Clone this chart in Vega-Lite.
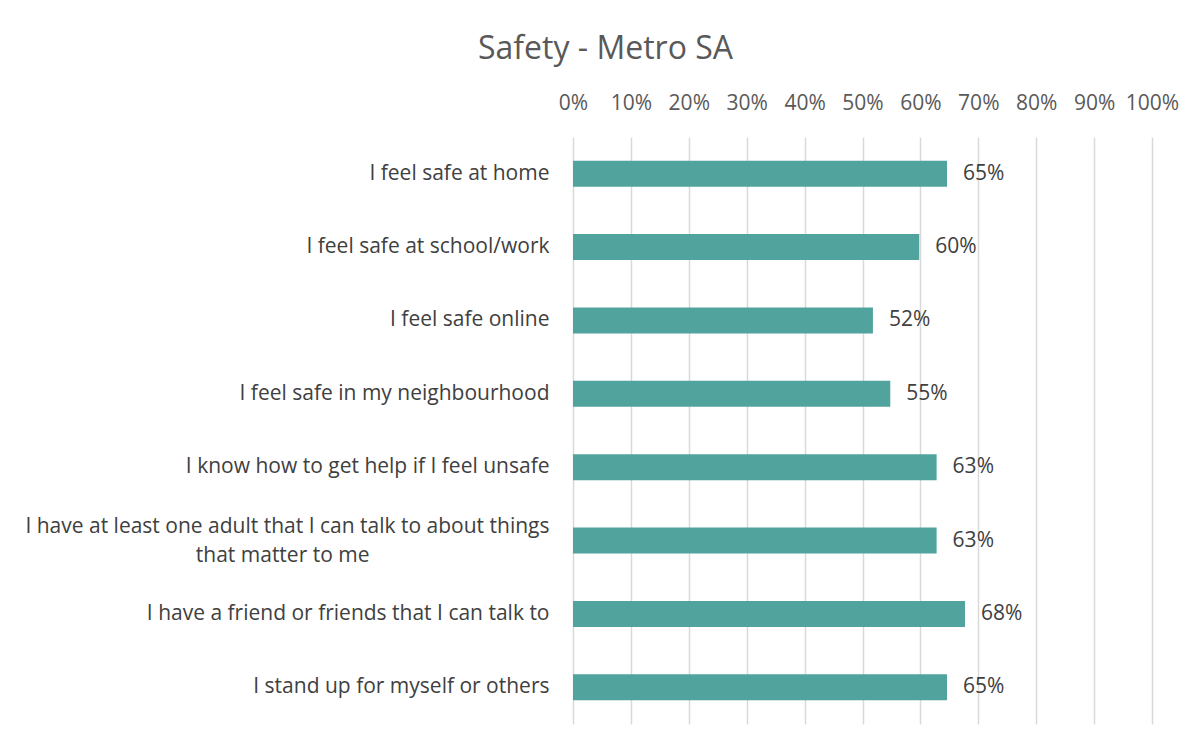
{
  "$schema": "https://vega.github.io/schema/vega-lite/v6.json",
  "autosize": "none",
  "width": 579,
  "height": 587,
  "padding": {"left": 573, "top": 137, "right": 51, "bottom": 25},
  "background": "white",
  "title": {
    "text": "Safety - Metro SA",
    "anchor": "middle",
    "dx": -257,
    "offset": 26,
    "fontSize": 32,
    "font": "Open Sans",
    "fontWeight": "normal",
    "color": "#595959"
  },
  "data": {
    "values": [
      {"item": "I feel safe at home", "value": 0.646},
      {"item": "I feel safe at school/work", "value": 0.598},
      {"item": "I feel safe online", "value": 0.518},
      {"item": "I feel safe in my neighbourhood", "value": 0.548},
      {"item": "I know how to get help if I feel unsafe", "value": 0.628},
      {"item": "I have at least one adult that I can talk to about things that matter to me", "value": 0.628},
      {"item": "I have a friend or friends that I can talk to", "value": 0.677},
      {"item": "I stand up for myself or others", "value": 0.646}
    ]
  },
  "encoding": {
    "y": {
      "field": "item",
      "type": "nominal",
      "sort": null,
      "title": null,
      "scale": {"paddingInner": 0.645, "paddingOuter": 0.3225},
      "axis": {
        "domain": false,
        "ticks": false,
        "labelPadding": 24,
        "labelFontSize": 21,
        "labelFont": "Open Sans",
        "labelColor": "#404040",
        "labelLimit": 700,
        "labelLineHeight": 29,
        "labelOffset": {"condition": {"test": "datum.value == 'I have at least one adult that I can talk to about things that matter to me'", "value": -14}, "value": 0},
        "labelExpr": "datum.label == 'I have at least one adult that I can talk to about things that matter to me' ? ['I have at least one adult that I can talk to about things', 'that matter to me\u2800\u2800\u2800\u2800\u2800\u2800\u2800\u2800\u2800\u2800\u2800\u2800'] : datum.label"
      }
    }
  },
  "layer": [
    {
      "mark": {"type": "bar", "color": "#51A39D"},
      "encoding": {
        "x": {
          "field": "value",
          "type": "quantitative",
          "scale": {"domain": [0, 1], "nice": false},
          "title": null,
          "axis": {
            "orient": "top",
            "format": ".0%",
            "values": [0, 0.1, 0.2, 0.3, 0.4, 0.5, 0.6, 0.7, 0.8, 0.9, 1],
            "domain": false,
            "ticks": false,
            "grid": true,
            "gridColor": "#d9d9d9",
            "gridWidth": 1.5,
            "labelPadding": 24,
            "labelFontSize": 21,
            "labelFont": "Open Sans",
            "labelColor": "#595959",
            "labelFlush": false
          }
        }
      }
    },
    {
      "mark": {"type": "text", "align": "left", "dx": 16, "fontSize": 21, "font": "Open Sans", "color": "#404040"},
      "encoding": {
        "x": {"field": "value", "type": "quantitative"},
        "text": {"field": "value", "type": "quantitative", "format": ".0%"}
      }
    }
  ],
  "config": {"view": {"stroke": null}}
}
